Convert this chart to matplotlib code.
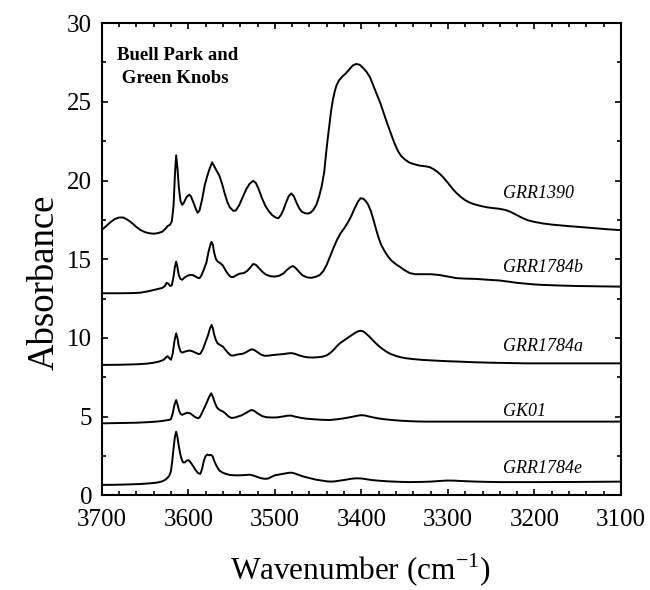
import matplotlib
matplotlib.use("Agg")
import matplotlib.pyplot as plt
from matplotlib.ticker import MultipleLocator

plt.rcParams['font.family'] = ['Liberation Serif', 'DejaVu Serif']
plt.rcParams['mathtext.fontset'] = 'custom'
plt.rcParams['mathtext.rm'] = 'Liberation Serif'

# ---- data (wavenumber cm-1, absorbance) ----
grr1390_w = [3700, 3695, 3690, 3685, 3680, 3675, 3670, 3665, 3660, 3655, 3650, 3645, 3640, 3635,
             3630, 3627, 3624, 3621, 3619, 3617, 3615.5, 3614, 3612.5, 3611, 3609, 3607, 3605, 3602,
             3599, 3597, 3594, 3591, 3589, 3587, 3584, 3581, 3578, 3575, 3572.5, 3570, 3567, 3564,
             3561, 3558, 3555, 3552, 3548, 3545, 3541, 3537, 3533, 3529, 3525, 3522, 3519, 3515,
             3511, 3507, 3503, 3499, 3496, 3493, 3490, 3487, 3484, 3481, 3478, 3475, 3472, 3469,
             3465, 3462, 3459, 3456, 3452, 3449, 3446, 3443, 3441, 3439, 3437, 3435, 3433, 3431,
             3429, 3426, 3422, 3418, 3414, 3410, 3406, 3402, 3398, 3394, 3390, 3386, 3382, 3378,
             3374, 3370, 3366, 3362, 3358, 3354, 3350, 3345, 3340, 3333, 3326, 3321, 3316, 3311,
             3306, 3300, 3295, 3290, 3285, 3280, 3275, 3270, 3262, 3255, 3248, 3240, 3233, 3228,
             3222, 3215, 3208, 3200, 3190, 3180, 3170, 3160, 3150, 3130, 3115, 3100]
grr1390_a = [16.85, 17.1, 17.35, 17.55, 17.65, 17.65, 17.5, 17.3, 17.05, 16.85, 16.72, 16.65, 16.62, 16.66,
             16.75, 16.9, 17.1, 17.2, 17.4, 18.4, 20.3, 21.6, 20.8, 19.6, 18.7, 18.45, 18.6, 18.95,
             19.1, 19.0, 18.6, 18.15, 17.95, 18.1, 18.8, 19.7, 20.3, 20.8, 21.15, 20.9, 20.6, 20.3,
             19.8, 19.2, 18.65, 18.3, 18.07, 18.1, 18.45, 18.95, 19.45, 19.8, 19.98, 19.85, 19.5, 18.9,
             18.4, 18.05, 17.8, 17.65, 17.6, 17.8, 18.15, 18.6, 19.0, 19.18, 19.0, 18.6, 18.25, 18.02,
             17.92, 17.9, 17.95, 18.1, 18.45, 18.95, 19.6, 20.5, 21.6, 22.6, 23.5, 24.4, 25.1, 25.6,
             26.0, 26.35, 26.6, 26.8, 27.05, 27.3, 27.4, 27.35, 27.15, 26.9, 26.55, 26.0, 25.45, 24.9,
             24.25, 23.6, 23.0, 22.4, 21.9, 21.55, 21.35, 21.15, 21.05, 20.95, 20.9, 20.85, 20.7, 20.5,
             20.24, 19.85, 19.5, 19.2, 18.95, 18.75, 18.6, 18.5, 18.38, 18.3, 18.25, 18.2, 18.12, 18.02,
             17.85, 17.65, 17.48, 17.37, 17.27, 17.2, 17.15, 17.1, 17.06, 16.97, 16.9, 16.85]

grr1784b_w = [3700, 3680, 3665, 3655, 3648, 3642, 3636, 3630, 3627, 3625, 3623, 3621, 3619, 3617,
              3615.5, 3614, 3612.5, 3611, 3609, 3607, 3604, 3601, 3598, 3595, 3592, 3589, 3587, 3585,
              3582, 3579, 3576.5, 3574, 3573, 3571.5, 3570, 3568, 3566, 3563, 3560, 3557, 3554, 3551,
              3548, 3545, 3541, 3536, 3532, 3528, 3525, 3522, 3518, 3514, 3510, 3505, 3500, 3495,
              3490, 3486, 3482, 3479, 3476, 3472, 3468, 3463, 3458, 3453, 3448, 3444, 3440, 3436,
              3432, 3428, 3424, 3420, 3416, 3412, 3408, 3404, 3401, 3398, 3395, 3392, 3389, 3386,
              3383, 3380, 3377, 3373, 3369, 3365, 3360, 3355, 3350, 3344, 3338, 3330, 3320, 3310,
              3300, 3290, 3280, 3267, 3255, 3240, 3229, 3220, 3210, 3200, 3190, 3170, 3150, 3125, 3100]
grr1784b_a = [12.84, 12.84, 12.85, 12.88, 12.95, 13.02, 13.1, 13.18, 13.3, 13.5, 13.45, 13.3, 13.35, 13.9,
              14.5, 14.85, 14.5, 14.0, 13.75, 13.7, 13.85, 13.95, 14.0, 14.0, 13.92, 13.82, 13.8, 13.95,
              14.35, 14.8, 15.5, 16.0, 16.1, 15.9, 15.4, 15.0, 14.85, 14.75, 14.6, 14.3, 14.05, 13.88,
              13.87, 13.97, 14.08, 14.12, 14.25, 14.5, 14.7, 14.65, 14.42, 14.18, 14.02, 13.92, 13.9, 13.95,
              14.1, 14.32, 14.5, 14.57, 14.45, 14.2, 13.98, 13.85, 13.82, 13.88, 14.0, 14.25, 14.65, 15.2,
              15.75, 16.25, 16.65, 16.95, 17.3, 17.7, 18.2, 18.65, 18.87, 18.85, 18.7, 18.45, 18.05, 17.5,
              16.9, 16.35, 15.9, 15.5, 15.16, 14.9, 14.68, 14.5, 14.3, 14.12, 14.05, 14.05, 14.05, 14.0,
              13.9, 13.8, 13.77, 13.75, 13.7, 13.65, 13.57, 13.5, 13.45, 13.4, 13.37, 13.33, 13.3, 13.28, 13.26]

grr1784a_w = [3700, 3680, 3660, 3648, 3640, 3634, 3629, 3626, 3624, 3622, 3620, 3618, 3616, 3614,
              3612.5, 3611, 3609, 3607, 3604, 3601, 3598, 3595, 3591, 3588, 3586, 3583, 3580, 3577,
              3575, 3573, 3571.5, 3570, 3568, 3566, 3563, 3560, 3557, 3554, 3551, 3548, 3545, 3541,
              3537, 3533, 3530, 3527, 3524, 3520, 3516, 3512, 3507, 3502, 3496, 3490, 3485, 3481,
              3477, 3472, 3467, 3462, 3456, 3450, 3445, 3440, 3436, 3432, 3428, 3424, 3420, 3416,
              3412, 3408, 3404, 3401, 3398, 3395, 3391, 3387, 3383, 3379, 3375, 3371, 3366, 3360,
              3354, 3348, 3340, 3330, 3320, 3310, 3298, 3287, 3270, 3250, 3230, 3210, 3150, 3100]
grr1784a_a = [8.29, 8.3, 8.33, 8.37, 8.43, 8.5, 8.6, 8.75, 8.85, 8.72, 8.62, 9.0, 9.8, 10.3,
              10.0, 9.5, 9.15, 9.07, 9.13, 9.18, 9.2, 9.15, 9.05, 8.98, 9.0, 9.3, 9.75, 10.2,
              10.6, 10.83, 10.6, 10.2, 9.85, 9.65, 9.55, 9.45, 9.25, 9.05, 8.9, 8.88, 8.93, 8.97,
              9.0, 9.1, 9.2, 9.28, 9.25, 9.1, 8.95, 8.87, 8.88, 8.92, 8.95, 8.98, 9.02, 9.04,
              9.0, 8.9, 8.82, 8.77, 8.76, 8.78, 8.81, 8.9, 9.05, 9.25, 9.5, 9.7, 9.85, 10.0,
              10.15, 10.3, 10.42, 10.46, 10.42, 10.3, 10.1, 9.87, 9.65, 9.45, 9.28, 9.13, 8.98, 8.86,
              8.77, 8.71, 8.66, 8.61, 8.58, 8.55, 8.52, 8.5, 8.46, 8.43, 8.41, 8.39, 8.39, 8.39]

gk01_w = [3700, 3680, 3660, 3645, 3637, 3630, 3626, 3622, 3620, 3618, 3616, 3614, 3612.5, 3611,
          3609, 3607, 3604, 3601, 3598, 3595, 3592, 3589, 3587, 3585, 3582, 3579, 3576, 3573.5,
          3571.5, 3569, 3567, 3565, 3562, 3559, 3556, 3553, 3550, 3546, 3542, 3538, 3534, 3530,
          3527, 3524, 3520, 3515, 3510, 3503, 3497, 3490, 3485, 3481, 3476, 3470, 3464, 3455,
          3447, 3437, 3428, 3420, 3412, 3405, 3400, 3396, 3390, 3383, 3375, 3364, 3355, 3345,
          3335, 3325, 3250, 3200, 3100]
gk01_a = [4.58, 4.6, 4.62, 4.66, 4.69, 4.73, 4.77, 4.8, 4.85, 5.2, 5.75, 6.06, 5.8, 5.45,
          5.18, 5.12, 5.2, 5.25, 5.22, 5.1, 4.98, 4.9, 4.95, 5.15, 5.5, 5.85, 6.25, 6.49,
          6.25, 5.85, 5.6, 5.48, 5.38, 5.3, 5.15, 5.0, 4.92, 4.95, 5.02, 5.1, 5.22, 5.35,
          5.43, 5.38, 5.22, 5.05, 4.97, 4.95, 4.96, 5.02, 5.07, 5.07, 5.0, 4.93, 4.88, 4.84,
          4.81, 4.79, 4.84, 4.9, 4.98, 5.06, 5.1, 5.08, 5.0, 4.92, 4.85, 4.79, 4.75, 4.72,
          4.7, 4.69, 4.69, 4.69, 4.69]

grr1784e_w = [3700, 3685, 3670, 3655, 3645, 3637, 3631, 3627, 3624, 3622, 3620, 3618.5, 3617, 3615.5,
              3614, 3612.5, 3611, 3609.5, 3608, 3606, 3604, 3602, 3600, 3598, 3596, 3594, 3592, 3590,
              3588, 3586, 3584, 3582, 3580, 3578, 3576, 3574, 3572, 3570, 3568, 3566, 3564, 3561,
              3558, 3555, 3552, 3546, 3540, 3534, 3529, 3525, 3521, 3516, 3512, 3508, 3504, 3500,
              3495, 3490, 3485, 3481, 3477, 3472, 3468, 3464, 3458, 3452, 3446, 3440, 3435, 3430,
              3424, 3418, 3412, 3406, 3400, 3394, 3388, 3380, 3370, 3358, 3345, 3332, 3320, 3310,
              3300, 3292, 3285, 3272, 3260, 3240, 3220, 3200, 3150, 3100]
grr1784e_a = [0.67, 0.68, 0.7, 0.73, 0.77, 0.81, 0.88, 0.98, 1.12, 1.25, 1.55, 2.2, 3.0, 3.7,
              4.05, 3.7, 3.15, 2.7, 2.35, 2.1, 2.1, 2.2, 2.25, 2.15, 2.0, 1.83, 1.65, 1.5,
              1.4, 1.38, 1.7, 2.2, 2.5, 2.6, 2.55, 2.58, 2.5, 2.2, 1.95, 1.75, 1.58, 1.47,
              1.4, 1.35, 1.3, 1.28, 1.28, 1.3, 1.32, 1.27, 1.19, 1.1, 1.06, 1.07, 1.18, 1.28,
              1.33, 1.38, 1.43, 1.45, 1.4, 1.3, 1.22, 1.16, 1.08, 1.0, 0.95, 0.9, 0.88, 0.9,
              0.95, 1.0, 1.06, 1.09, 1.08, 1.03, 0.98, 0.94, 0.9, 0.87, 0.85, 0.86, 0.88, 0.92,
              0.95, 0.94, 0.92, 0.89, 0.87, 0.85, 0.85, 0.85, 0.86, 0.88]

series_names = ["GRR1390", "GRR1784b", "GRR1784a", "GK01", "GRR1784e"]
series_w = [grr1390_w, grr1784b_w, grr1784a_w, gk01_w, grr1784e_w]
series_a = [grr1390_a, grr1784b_a, grr1784a_a, gk01_a, grr1784e_a]
label_y = [19.2, 14.45, 9.45, 5.35, 1.7]

x_ticks = [3700, 3600, 3500, 3400, 3300, 3200, 3100]
y_ticks = [0, 5, 10, 15, 20, 25, 30]

fig = plt.figure(figsize=(6.5, 5.9), dpi=100)
ax = fig.add_axes([0.1565, 0.1602, 0.7989, 0.8008])

for w, a in zip(series_w, series_a):
    ax.plot(w, a, color='black', lw=1.4, solid_joinstyle='round')

for name, ly in zip(series_names, label_y):
    ax.text(3236, ly, name, fontsize=13, style='italic', ha='left', va='center')

ax.text(3682, 27.2, "Buell Park and\n Green Knobs", fontsize=13.5, fontweight='bold',
        ha='left', va='center', linespacing=1.45)

ax.set_xlim(3700, 3100)
ax.set_ylim(0, 30)
ax.set_xticks(x_ticks)
ax.set_yticks(y_ticks)
ax.xaxis.set_minor_locator(MultipleLocator(20))
ax.yaxis.set_minor_locator(MultipleLocator(2.5))
ax.tick_params(which='both', direction='in', top=True, right=True, width=1.2, labelsize=18)
ax.tick_params(which='major', length=4.5)
ax.tick_params(which='minor', length=2.8)
ax.tick_params(axis='x', which='major', pad=10)
ax.tick_params(axis='y', which='major', pad=7)
for sp in ax.spines.values():
    sp.set_linewidth(1.5)

ax.set_xlabel('Wavenumber (cm$^{\\mathregular{-1}}$)', fontsize=22.5)
ax.xaxis.set_label_coords(0.497, -0.120)
ax.set_ylabel('Absorbance', fontsize=26.5)
ax.yaxis.set_label_coords(-0.078, 0.452)

fig.savefig('out.png', dpi=100)
